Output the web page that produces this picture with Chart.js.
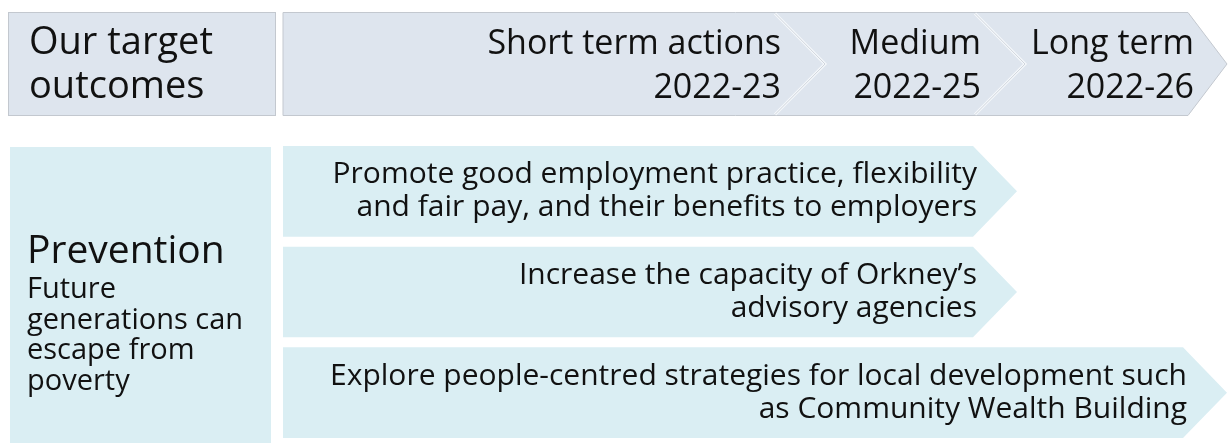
<!DOCTYPE html>
<html>
<head>
<meta charset="utf-8">
<script src="https://cdn.jsdelivr.net/npm/chart.js@4"></script>
<style>
  html, body { margin: 0; padding: 0; background: #ffffff; }
  #plan { display: block; }
</style>
</head>
<body>
<canvas id="plan" width="1228" height="443"></canvas>
<script>
// chart content
const outcomeHeader = ['Our target', 'outcomes'];
const stages = ['Short term actions', 'Medium', 'Long term'];
const stageYears = ['2022-23', '2022-25', '2022-26'];
const outcomeTitle = 'Prevention';
const outcomeText = ['Future', 'generations can', 'escape from', 'poverty'];
const actions = [
    ['Promote good employment practice, flexibility', 'and fair pay, and their benefits to employers'],
    ['Increase the capacity of Orkney\u2019s', 'advisory agencies'],
    ['Explore people-centred strategies for local development such', 'as Community Wealth Building']
];
const actionHorizon = ['Medium', 'Medium', 'Long term'];

// layout (x in canvas units along the timeline)
const TIMELINE_START = 283;
const STAGE_TIP = [825, 1017, 1227];
const HEADER_SHOULDER = [775, 975, 1188];
const ARROW_DEPTH = 44;
const FONT = '"Open Sans", sans-serif';
const TEXT_COLOR = '#111111';
const HEADER_FILL = '#dee5ee';
const HEADER_EDGE = '#c3c8cf';
const BODY_FILL = '#daeef3';

function arrowPath(ctx, x0, x1, top, bottom, depth) {
    const mid = (top + bottom) / 2;
    ctx.beginPath();
    ctx.moveTo(x0, top);
    ctx.lineTo(x1 - depth, top);
    ctx.lineTo(x1, mid);
    ctx.lineTo(x1 - depth, bottom);
    ctx.lineTo(x0, bottom);
    ctx.closePath();
}

const diagramPlugin = {
    id: 'diagram',
    beforeDatasetsDraw(chart) {
        const ctx = chart.ctx;
        const x = chart.scales.x;
        ctx.save();

        // header: outcome box
        ctx.fillStyle = HEADER_FILL;
        ctx.strokeStyle = HEADER_EDGE;
        ctx.lineWidth = 1;
        ctx.fillRect(8.5, 12.5, 267, 103);
        ctx.strokeRect(8.5, 12.5, 267, 103);

        // header: timeline band
        const hTop = 12.5, hBot = 115.5, hMid = (hTop + hBot) / 2;
        const start = x.getPixelForValue(TIMELINE_START);
        const lastTip = x.getPixelForValue(STAGE_TIP[STAGE_TIP.length - 1]);
        arrowPath(ctx, start, lastTip, hTop, hBot, lastTip - HEADER_SHOULDER[2]);
        ctx.fillStyle = HEADER_FILL;
        ctx.fill();
        ctx.stroke();

        // chevron separators
        for (let i = 0; i < stages.length - 1; i++) {
            const sh = HEADER_SHOULDER[i];
            ctx.beginPath();
            ctx.moveTo(sh, hTop + 1);
            ctx.lineTo(sh + 50, hMid);
            ctx.lineTo(sh, hBot - 1);
            ctx.strokeStyle = '#f5f8fb';
            ctx.lineWidth = 3;
            ctx.stroke();
            ctx.strokeStyle = '#d0d6de';
            ctx.lineWidth = 1;
            ctx.stroke();
        }

        ctx.fillStyle = TEXT_COLOR;
        ctx.textBaseline = 'alphabetic';
        ctx.font = '38px ' + FONT;
        ctx.textAlign = 'left';
        ctx.fillText(outcomeHeader[0], 29, 54);
        ctx.fillText(outcomeHeader[1], 29, 98);

        ctx.font = '34px ' + FONT;
        ctx.textAlign = 'right';
        stages.forEach((s, i) => {
            const right = HEADER_SHOULDER[i] + 6;
            ctx.fillText(s, right, 54);
            ctx.fillText(stageYears[i], right, 98);
        });

        // outcome box
        ctx.fillStyle = BODY_FILL;
        ctx.fillRect(10, 147, 261, 296);
        ctx.fillStyle = TEXT_COLOR;
        ctx.textAlign = 'left';
        ctx.font = '39px ' + FONT;
        ctx.fillText(outcomeTitle, 27, 263);
        ctx.font = '29px ' + FONT;
        outcomeText.forEach((t, i) => ctx.fillText(t, 27, 298 + i * 30.7));

        // action arrows from the bar elements
        const meta = chart.getDatasetMeta(0);
        ctx.font = '30px ' + FONT;
        ctx.textAlign = 'right';
        meta.data.forEach((bar, i) => {
            const p = bar.getProps(['x', 'y', 'base', 'height'], true);
            const top = p.y - p.height / 2;
            const bottom = p.y + p.height / 2;
            arrowPath(ctx, p.base, p.x, top, bottom, ARROW_DEPTH);
            ctx.fillStyle = BODY_FILL;
            ctx.fill();
            ctx.fillStyle = TEXT_COLOR;
            const lines = actions[i];
            const b1 = p.y - 8;
            lines.forEach((l, k) => ctx.fillText(l, p.x - ARROW_DEPTH + 4, b1 + k * 33));
        });

        ctx.restore();
        return false;
    }
};

new Chart(document.getElementById('plan'), {
    type: 'bar',
    data: {
        labels: actions.map(a => a.join(' ')),
        datasets: [{
            data: actionHorizon.map(h => [TIMELINE_START, STAGE_TIP[stages.indexOf(h)]]),
            backgroundColor: BODY_FILL,
            categoryPercentage: 1,
            barPercentage: 0.9
        }]
    },
    options: {
        indexAxis: 'y',
        responsive: false,
        animation: false,
        devicePixelRatio: 1,
        layout: { padding: { top: 141, bottom: 0, left: 0, right: 0 } },
        plugins: {
            legend: { display: false },
            tooltip: { enabled: false }
        },
        scales: {
            x: { type: 'linear', min: 0, max: 1228, display: false },
            y: { type: 'category', display: false }
        }
    },
    plugins: [diagramPlugin]
});
</script>
</body>
</html>
